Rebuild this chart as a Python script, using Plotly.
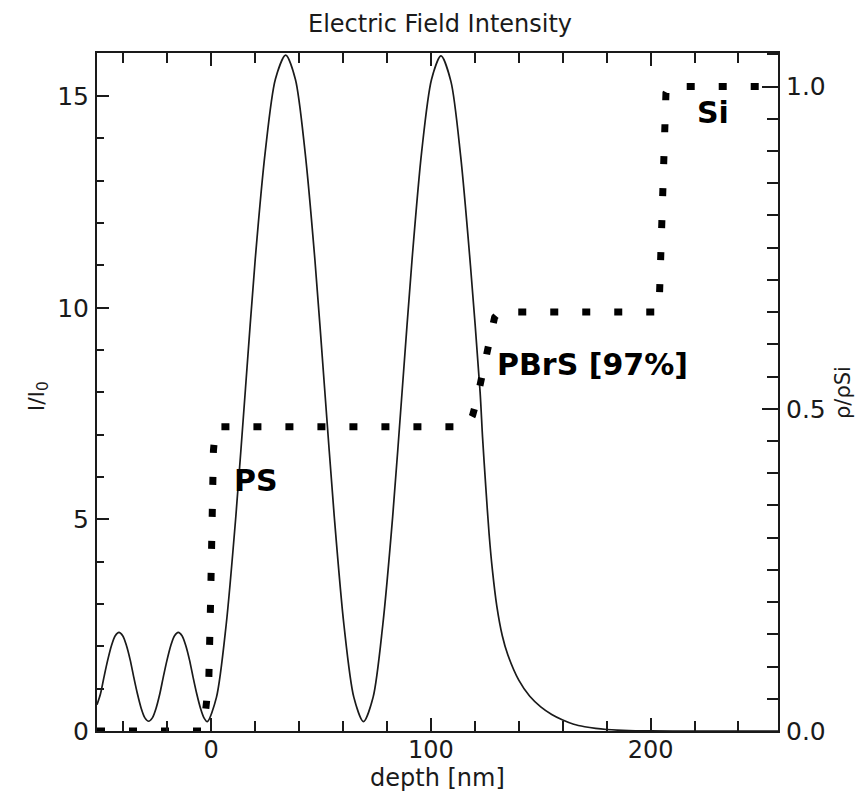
import plotly.graph_objects as go

# Electric field intensity I/I0 vs depth
depth_I = [-52.0, -50.4, -48.8, -47.1, -45.4, -43.7, -42.0, -40.3, -38.6, -36.9,
           -35.3, -33.6, -31.9, -30.2, -28.5, -26.8, -25.1, -23.4, -21.8, -20.1,
           -18.4, -16.7, -15.0, -13.3, -11.6, -9.9, -8.3, -6.6, -4.9, -3.3, -1.8,
           2.4, 6.8, 11.2, 15.6, 20.0, 24.6, 29.2, 33.9, 38.3, 42.7, 47.2, 51.6,
           56.0, 60.4, 64.9, 69.3, 73.7, 78.1, 82.6, 87.0, 91.4, 95.8, 100.3,
           104.6, 109.1, 113.5, 118.0, 122.4, 123.5, 125.0, 126.5, 128.0, 130.0,
           132.5, 135.0, 140.0, 145.0, 150.0, 155.0, 160.0, 165.0, 170.0, 175.0,
           180.0, 190.0, 200.0, 210.0, 258.0]
intensity = [0.62, 0.88, 1.28, 1.68, 2.02, 2.25, 2.33, 2.25, 2.02, 1.68,
             1.28, 0.88, 0.54, 0.31, 0.23, 0.31, 0.54, 0.88, 1.28, 1.68,
             2.02, 2.25, 2.33, 2.25, 2.02, 1.68, 1.28, 0.88, 0.54, 0.31, 0.22,
             0.80, 2.51, 5.07, 8.10, 11.13, 13.69, 15.40, 15.97, 15.40, 13.69, 11.13, 8.10,
             5.07, 2.51, 0.80, 0.22, 0.80, 2.51, 5.07, 8.10, 11.13, 13.69, 15.40,
             15.95, 15.35, 13.60, 11.00, 8.00, 6.95, 5.75, 4.65, 3.80, 2.95,
             2.25, 1.80, 1.20, 0.82, 0.57, 0.39, 0.26, 0.16, 0.10, 0.06,
             0.035, 0.01, 0.003, 0.0, 0.0]

# Density profile rho/rho_Si vs depth
depth_rho = [-52.0, -4.0, -2.6, -1.1, -0.3, 0.1, 0.5, 1.0, 2.0,
             115.0, 117.0, 119.0, 121.0, 123.0, 125.0, 127.0, 129.0, 131.0,
             203.5, 204.0, 204.5, 205.5, 206.3, 207.0, 208.5, 258.0]
rho = [0.0, 0.0, 0.03, 0.08, 0.20, 0.30, 0.38, 0.435, 0.472,
       0.472, 0.476, 0.49, 0.515, 0.55, 0.585, 0.62, 0.642, 0.65,
       0.65, 0.67, 0.73, 0.845, 0.94, 0.99, 1.0, 1.0]

labels = ["PS", "PBrS [97%]", "Si"]
label_x = [20.6, 173.7, 228.3]
label_y = [5.93, 8.67, 14.62]

FONT = "DejaVu Sans, Verdana, sans-serif"
INK = "#1a1a1a"

fig = go.Figure()
fig.add_trace(go.Scatter(x=depth_I, y=intensity, mode="lines",
                         line=dict(color=INK, width=1.7, shape="spline", smoothing=0.8),
                         showlegend=False, hoverinfo="skip"))
fig.add_trace(go.Scatter(x=depth_rho, y=rho, mode="lines", yaxis="y2",
                         line=dict(color="black", width=7, dash="8px,24px"),
                         showlegend=False, hoverinfo="skip"))

for t, x, y in zip(labels, label_x, label_y):
    fig.add_annotation(x=x, y=y, xref="x", yref="y", text=t, showarrow=False,
                       font=dict(family=FONT, size=30, color="black", weight="bold"))

# titles placed as paper-referenced text
fig.add_annotation(x=0.504, y=1.043, xref="paper", yref="paper", text="Electric Field Intensity",
                   showarrow=False, xanchor="center", yanchor="middle",
                   font=dict(family=FONT, size=24, color=INK))
fig.add_annotation(x=0.4996, y=-0.069, xref="paper", yref="paper", text="depth [nm]",
                   showarrow=False, xanchor="center", yanchor="middle", borderpad=0,
                   font=dict(family=FONT, size=24, color=INK))
fig.add_annotation(x=-0.0858, y=0.493, xref="paper", yref="paper", text="I/I<sub>0</sub>",
                   showarrow=False, xanchor="center", yanchor="middle", textangle=-90,
                   font=dict(family=FONT, size=22, color=INK))
fig.add_annotation(x=1.0954, y=0.5, xref="paper", yref="paper", text="ρ/ρSi",
                   showarrow=False, xanchor="center", yanchor="middle", textangle=-90,
                   font=dict(family=FONT, size=21, color=INK))

fig.update_layout(
    width=849, height=790,
    margin=dict(l=88.5, r=79, t=45, b=67),
    paper_bgcolor="white", plot_bgcolor="white",
    font=dict(family=FONT, color=INK, size=24),
    xaxis=dict(range=[-52, 258], tickmode="linear", tick0=0, dtick=100,
               ticks="inside", ticklen=13, tickwidth=2, tickcolor=INK,
               minor=dict(dtick=20, ticks="inside", ticklen=10, tickwidth=2, tickcolor=INK),
               showline=True, linecolor=INK, linewidth=2, mirror="ticks",
               showgrid=False, zeroline=False,
               tickfont=dict(size=24, family=FONT, color=INK), ticklabelstandoff=-4),
    yaxis=dict(range=[0, 16.02], tickmode="linear", tick0=0, dtick=5,
               ticks="inside", ticklen=12, tickwidth=2, tickcolor=INK,
               minor=dict(dtick=1, ticks="inside", ticklen=7, tickwidth=2, tickcolor=INK),
               showline=True, linecolor=INK, linewidth=2,
               showgrid=False, zeroline=False,
               tickfont=dict(size=25, family=FONT, color=INK), ticklabelstandoff=1),
    yaxis2=dict(range=[0, 1.052], overlaying="y", side="right", anchor="x",
                tickmode="linear", tick0=0, dtick=0.5, tickformat=".1f",
                ticks="inside", ticklen=16, tickwidth=2, tickcolor=INK,
                minor=dict(dtick=0.05, ticks="inside", ticklen=11, tickwidth=2, tickcolor=INK),
                showline=True, linecolor=INK, linewidth=2,
                showgrid=False, zeroline=False,
                tickfont=dict(size=25, family=FONT, color=INK), ticklabelstandoff=1),
)

fig.write_html("out.html")
